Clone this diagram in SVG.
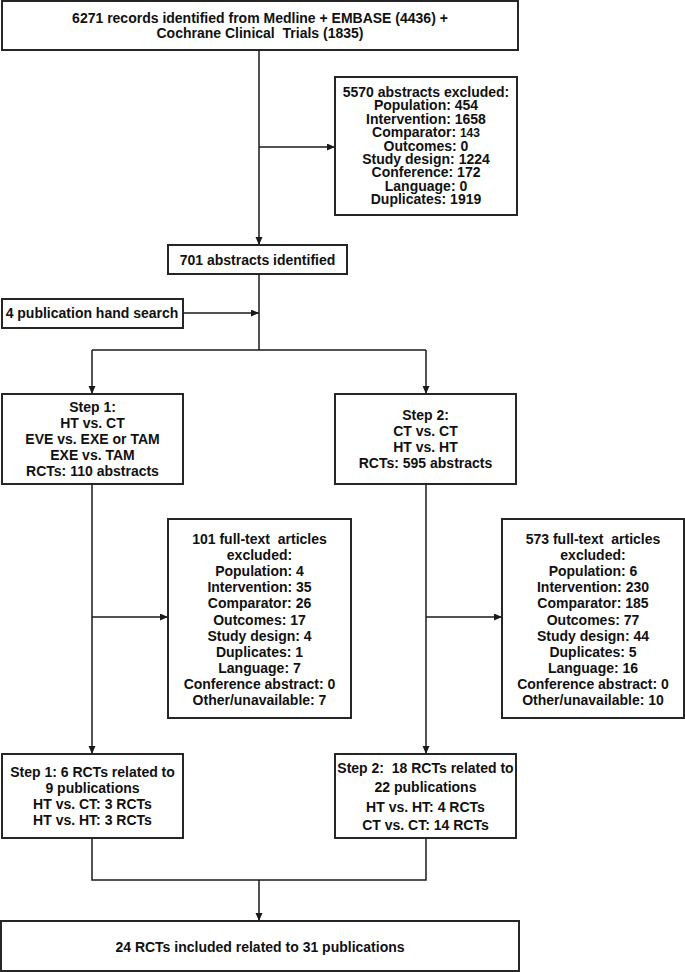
<svg xmlns="http://www.w3.org/2000/svg" width="685" height="972" viewBox="0 0 685 972">
<style>
.box{fill:#fff;stroke:#262626;stroke-width:2}
.t{font-family:"Liberation Sans",Arial,sans-serif;font-size:14px;font-weight:bold;fill:#111;text-anchor:middle;white-space:pre}
.c{fill:none;stroke:#1a1a1a;stroke-width:1.5}
</style>
<defs>
<marker id="ah" markerUnits="userSpaceOnUse" markerWidth="9" markerHeight="8" refX="8" refY="3.5" orient="auto">
<path d="M0,0 L8,3.5 L0,7 z" fill="#1a1a1a"/>
</marker>
</defs>
<rect width="685" height="972" fill="#fff"/>
<g id="connectors">
<line class="c" x1="259" y1="50" x2="259" y2="245" marker-end="url(#ah)"/>
<line class="c" x1="259" y1="147" x2="335" y2="147" marker-end="url(#ah)"/>
<line class="c" x1="259" y1="274" x2="259" y2="350"/>
<line class="c" x1="183" y1="313" x2="259" y2="313" marker-end="url(#ah)"/>
<line class="c" x1="92" y1="350" x2="426" y2="350"/>
<line class="c" x1="92" y1="350" x2="92" y2="394" marker-end="url(#ah)"/>
<line class="c" x1="426" y1="350" x2="426" y2="394" marker-end="url(#ah)"/>
<line class="c" x1="92" y1="484" x2="92" y2="754" marker-end="url(#ah)"/>
<line class="c" x1="92" y1="617" x2="168" y2="617" marker-end="url(#ah)"/>
<line class="c" x1="426" y1="484" x2="426" y2="754" marker-end="url(#ah)"/>
<line class="c" x1="426" y1="617" x2="502" y2="617" marker-end="url(#ah)"/>
<polyline class="c" points="92,838 92,880 426,880 426,838"/>
<line class="c" x1="259" y1="880" x2="259" y2="921" marker-end="url(#ah)"/>
</g>
<g id="records">
<rect class="box" x="2" y="1" width="516" height="49"/>
<text class="t" x="260" y="23">6271 records identified from Medline + EMBASE (4436) +</text>
<text class="t" x="260" y="38">Cochrane Clinical  Trials (1835)</text>
</g>
<g id="abstracts-excluded">
<rect class="box" x="335" y="77" width="182" height="138"/>
<text class="t" x="426" y="97">5570 abstracts excluded:</text>
<text class="t" x="426" y="110.4">Population: 454</text>
<text class="t" x="426" y="123.8">Intervention: 1658</text>
<text class="t" x="426" y="137.2">Comparator: <tspan font-size="12">143</tspan></text>
<text class="t" x="426" y="150.6">Outcomes: 0</text>
<text class="t" x="426" y="164">Study design: 1224</text>
<text class="t" x="426" y="177.4">Conference: 172</text>
<text class="t" x="426" y="190.8">Language: 0</text>
<text class="t" x="426" y="204.2">Duplicates: 1919</text>
</g>
<g id="abstracts-identified">
<rect class="box" x="168" y="245" width="179" height="29"/>
<text class="t" x="257.5" y="265">701 abstracts identified</text>
</g>
<g id="hand-search">
<rect class="box" x="2" y="299" width="181" height="29"/>
<text class="t" x="92" y="318">4 publication hand search</text>
</g>
<g id="step1">
<rect class="box" x="2" y="394" width="181" height="90"/>
<text class="t" x="92.5" y="412">Step 1:</text>
<text class="t" x="92.5" y="428">HT vs. CT</text>
<text class="t" x="92.5" y="444">EVE vs. EXE or TAM</text>
<text class="t" x="92.5" y="460">EXE vs. TAM</text>
<text class="t" x="92.5" y="476">RCTs: 110 abstracts</text>
</g>
<g id="step2">
<rect class="box" x="335" y="394" width="181" height="90"/>
<text class="t" x="425.5" y="420">Step 2:</text>
<text class="t" x="425.5" y="436">CT vs. CT</text>
<text class="t" x="425.5" y="452">HT vs. HT</text>
<text class="t" x="425.5" y="468">RCTs: 595 abstracts</text>
</g>
<g id="fulltext1">
<rect class="box" x="168" y="519" width="183" height="199"/>
<text class="t" x="259.5" y="544">101 full-text  articles</text>
<text class="t" x="259.5" y="560.1">excluded:</text>
<text class="t" x="259.5" y="576.2">Population: 4</text>
<text class="t" x="259.5" y="592.3">Intervention: 35</text>
<text class="t" x="259.5" y="608.4">Comparator: 26</text>
<text class="t" x="259.5" y="624.5">Outcomes: 17</text>
<text class="t" x="259.5" y="640.6">Study design: 4</text>
<text class="t" x="259.5" y="656.7">Duplicates: 1</text>
<text class="t" x="259.5" y="672.8">Language: 7</text>
<text class="t" x="259.5" y="688.9">Conference abstract: 0</text>
<text class="t" x="259.5" y="705">Other/unavailable: 7</text>
</g>
<g id="fulltext2">
<rect class="box" x="502" y="519" width="182" height="199"/>
<text class="t" x="593" y="544">573 full-text  articles</text>
<text class="t" x="593" y="560.1">excluded:</text>
<text class="t" x="593" y="576.2">Population: 6</text>
<text class="t" x="593" y="592.3">Intervention: 230</text>
<text class="t" x="593" y="608.4">Comparator: 185</text>
<text class="t" x="593" y="624.5">Outcomes: 77</text>
<text class="t" x="593" y="640.6">Study design: 44</text>
<text class="t" x="593" y="656.7">Duplicates: 5</text>
<text class="t" x="593" y="672.8">Language: 16</text>
<text class="t" x="593" y="688.9">Conference abstract: 0</text>
<text class="t" x="593" y="705">Other/unavailable: 10</text>
</g>
<g id="result1">
<rect class="box" x="2" y="754" width="181" height="84"/>
<text class="t" x="92.5" y="777">Step 1: 6 RCTs related to</text>
<text class="t" x="92.5" y="793">9 publications</text>
<text class="t" x="92.5" y="809">HT vs. CT: 3 RCTs</text>
<text class="t" x="92.5" y="825">HT vs. HT: 3 RCTs</text>
</g>
<g id="result2">
<rect class="box" x="335" y="754" width="181" height="84"/>
<text class="t" x="425.5" y="773">Step 2:  18 RCTs related to</text>
<text class="t" x="425.5" y="792">22 publications</text>
<text class="t" x="425.5" y="812">HT vs. HT: 4 RCTs</text>
<text class="t" x="425.5" y="830">CT vs. CT: 14 RCTs</text>
</g>
<g id="included">
<rect class="box" x="1" y="921" width="518" height="50"/>
<text class="t" x="260" y="952">24 RCTs included related to 31 publications</text>
</g>
</svg>
